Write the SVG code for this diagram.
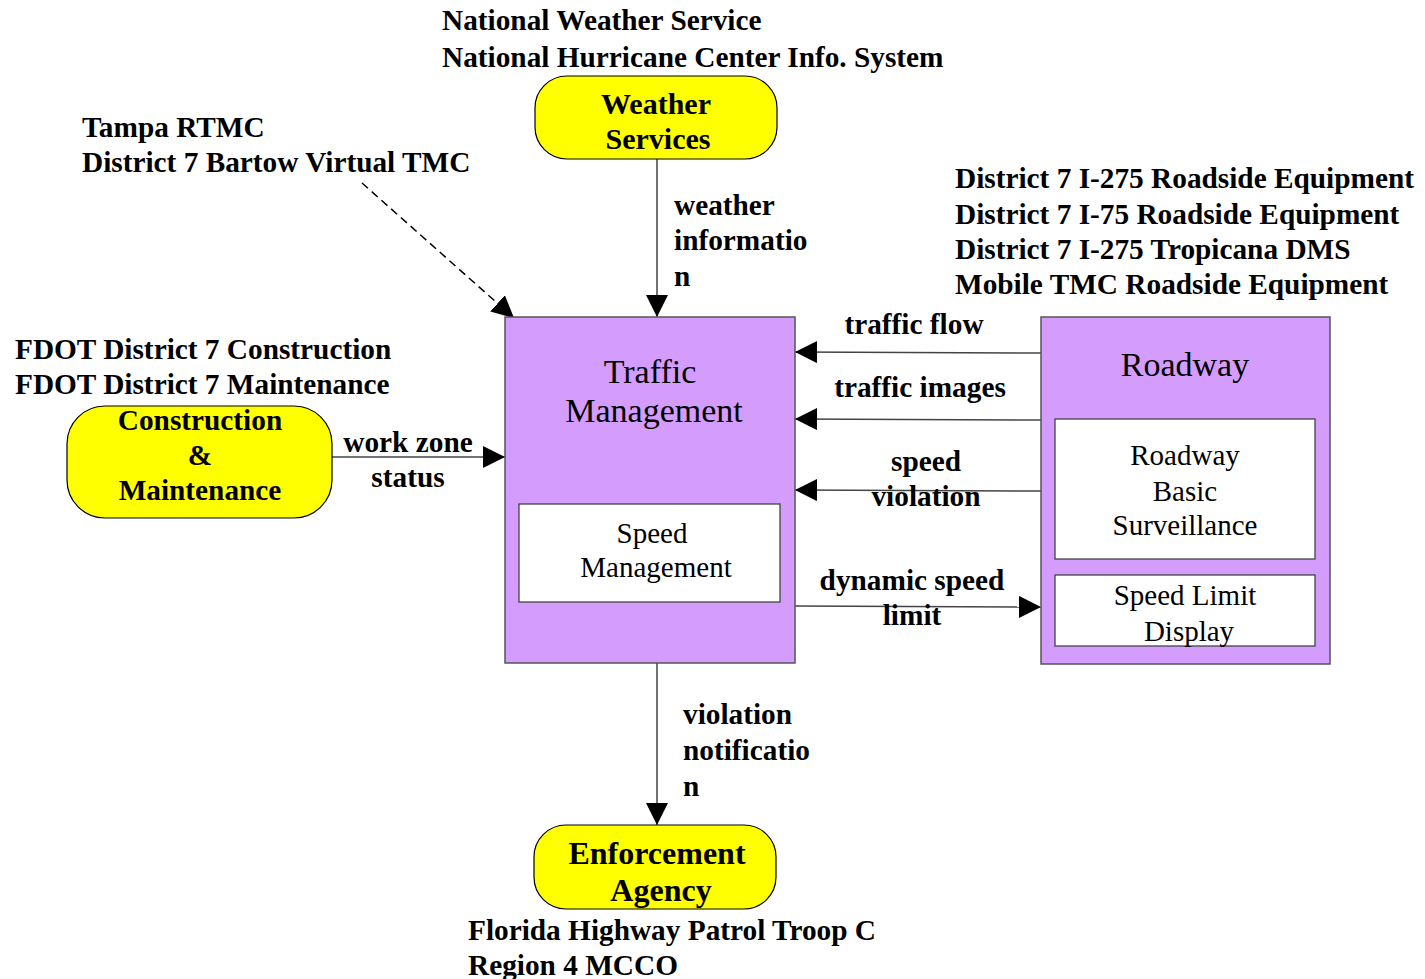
<svg xmlns="http://www.w3.org/2000/svg" width="1425" height="979" viewBox="0 0 1425 979">
<defs>
<style>
.b{font-family:"Liberation Serif","Times New Roman",serif;font-weight:bold;font-size:29.3px;fill:#000}
.r{font-family:"Liberation Serif","Times New Roman",serif;font-size:29px;fill:#000}
.big{font-size:34px}
.c{text-anchor:middle}
.term{fill:#FFFF00;stroke:#000;stroke-width:1.2}
.sys{fill:#D49CFC;stroke:#555;stroke-width:1.5}
.sub{fill:#fff;stroke:#444;stroke-width:1.3}
.ln{stroke:#444;stroke-width:1.5;fill:none}
.dash{stroke:#000;stroke-width:1.5;fill:none;stroke-dasharray:8,5}
</style>
<marker id="ah" markerUnits="userSpaceOnUse" markerWidth="22" markerHeight="22" viewBox="0 0 20 20" refX="20" refY="10" orient="auto">
<path d="M0,0 L20,10 L0,20 Z" fill="#000"/>
</marker>
</defs>
<rect width="1425" height="979" fill="#fff"/>

<g id="connectors">
<line class="ln" x1="657" y1="159" x2="657" y2="317" marker-end="url(#ah)"/>
<line class="dash" x1="362" y1="183" x2="514" y2="318" marker-end="url(#ah)"/>
<line class="ln" x1="332" y1="457" x2="505" y2="457" marker-end="url(#ah)"/>
<line class="ln" x1="1041" y1="353" x2="795" y2="352" marker-end="url(#ah)"/>
<line class="ln" x1="1041" y1="420" x2="795" y2="419" marker-end="url(#ah)"/>
<line class="ln" x1="1041" y1="491" x2="795" y2="490" marker-end="url(#ah)"/>
<line class="ln" x1="795" y1="606" x2="1041" y2="607" marker-end="url(#ah)"/>
<line class="ln" x1="657" y1="663" x2="657" y2="825" marker-end="url(#ah)"/>
<text class="b" x="674" y="215">weather</text>
<text class="b" x="674" y="250">informatio</text>
<text class="b" x="674" y="286">n</text>
<text class="b c" x="914" y="334">traffic flow</text>
<text class="b c" x="920" y="397">traffic images</text>
<text class="b c" x="926" y="471">speed</text>
<text class="b c" x="926" y="506">violation</text>
<text class="b c" x="912" y="590">dynamic speed</text>
<text class="b c" x="912" y="625">limit</text>
<text class="b c" x="408" y="452">work zone</text>
<text class="b c" x="408" y="487">status</text>
<text class="b" x="683" y="724">violation</text>
<text class="b" x="683" y="760">notificatio</text>
<text class="b" x="683" y="796">n</text>
</g>

<g id="weather-services">
<rect class="term" x="535" y="76" width="242" height="83" rx="32"/>
<text class="b c" x="656" y="114" style="font-size:30px">Weather</text>
<text class="b c" x="658" y="149" style="font-size:30px">Services</text>
<text class="b" x="442" y="30">National Weather Service</text>
<text class="b" x="442" y="67">National Hurricane Center Info. System</text>
</g>

<g id="tampa-rtmc">
<text class="b" x="82" y="137">Tampa RTMC</text>
<text class="b" x="82" y="172">District 7 Bartow Virtual TMC</text>
</g>

<g id="construction-maintenance">
<rect class="term" x="67" y="406" width="265" height="112" rx="38"/>
<text class="b c" x="200" y="430">Construction</text>
<text class="b c" x="200" y="465">&amp;</text>
<text class="b c" x="200" y="500">Maintenance</text>
<text class="b" x="15" y="359">FDOT District 7 Construction</text>
<text class="b" x="15" y="394">FDOT District 7 Maintenance</text>
</g>

<g id="traffic-management">
<rect class="sys" x="505" y="317" width="290" height="346"/>
<text class="r big c" x="650" y="383">Traffic</text>
<text class="r big c" x="654" y="422">Management</text>
<rect class="sub" x="519" y="504" width="261" height="98"/>
<text class="r c" x="652" y="543">Speed</text>
<text class="r c" x="656" y="577">Management</text>
</g>

<g id="roadway">
<rect class="sys" x="1041" y="317" width="289" height="347"/>
<text class="r big c" x="1185" y="376">Roadway</text>
<rect class="sub" x="1055" y="419" width="260" height="140"/>
<text class="r c" x="1185" y="465">Roadway</text>
<text class="r c" x="1185" y="501">Basic</text>
<text class="r c" x="1185" y="535">Surveillance</text>
<rect class="sub" x="1055" y="575" width="260" height="71"/>
<text class="r c" x="1185" y="605">Speed Limit</text>
<text class="r c" x="1189" y="641">Display</text>
<text class="b" x="955" y="188">District 7 I-275 Roadside Equipment</text>
<text class="b" x="955" y="224">District 7 I-75 Roadside Equipment</text>
<text class="b" x="955" y="259">District 7 I-275 Tropicana DMS</text>
<text class="b" x="955" y="294">Mobile TMC Roadside Equipment</text>
</g>

<g id="enforcement-agency">
<rect class="term" x="534" y="825" width="242" height="84" rx="32"/>
<text class="b c" x="657" y="864" style="font-size:32px">Enforcement</text>
<text class="b c" x="661" y="901" style="font-size:32px">Agency</text>
<text class="b" x="468" y="940">Florida Highway Patrol Troop C</text>
<text class="b" x="468" y="975">Region 4 MCCO</text>
</g>
</svg>
